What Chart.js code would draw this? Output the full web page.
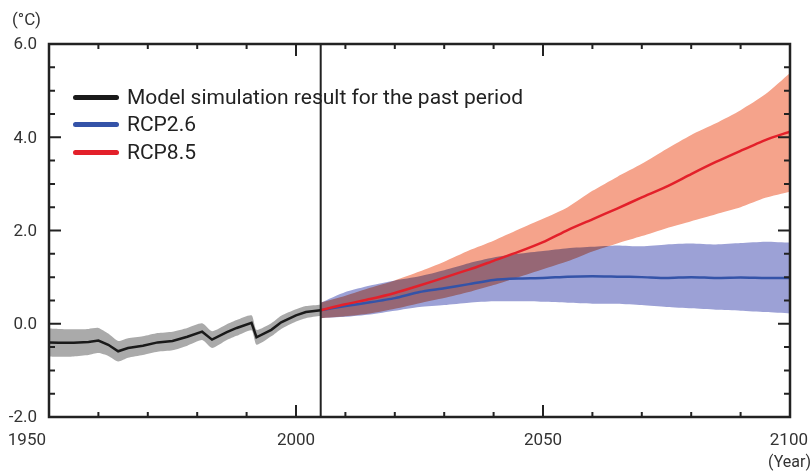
<!DOCTYPE html>
<html>
<head>
<meta charset="utf-8">
<script src="https://cdn.jsdelivr.net/npm/chart.js@4.4.1/dist/chart.umd.min.js"></script>
<style>
  body { margin: 0; background: #fff; }
  #wrap { position: relative; width: 811px; height: 471px; }
  .legend { position: absolute; left: 73px; top: 0; font: 21px Roboto, sans-serif; color: #222; }
  .row { position: absolute; left: 0; height: 26px; white-space: nowrap; display: flex; align-items: center; }
  .swatch { display: inline-block; width: 46px; height: 5px; border-radius: 3px; margin-right: 8px; }
</style>
</head>
<body>
<div id="wrap">
  <canvas id="tempChart" width="811" height="471"></canvas>
  <div class="legend">
    <div class="row" style="top:84px"><span class="swatch" style="background:#1a1a1a"></span>Model simulation result for the past period</div>
    <div class="row" style="top:111px"><span class="swatch" style="background:#3453a8"></span>RCP2.6</div>
    <div class="row" style="top:139px"><span class="swatch" style="background:#e3202a"></span>RCP8.5</div>
  </div>
</div>
<script>
// past simulation
const histYears = [1950, 1952, 1955, 1958, 1960, 1962, 1964, 1966, 1969, 1972, 1975, 1978, 1981, 1983, 1986, 1988, 1991, 1992, 1995, 1997, 2000, 2002, 2005];
const histMean  = [-0.40, -0.41, -0.41, -0.39, -0.36, -0.45, -0.59, -0.52, -0.47, -0.40, -0.37, -0.28, -0.17, -0.34, -0.18, -0.09, 0.02, -0.29, -0.13, 0.03, 0.18, 0.25, 0.29];
const histHigh  = [-0.10, -0.11, -0.12, -0.11, -0.09, -0.21, -0.37, -0.31, -0.27, -0.20, -0.17, -0.09, 0.01, -0.16, -0.01, 0.08, 0.18, -0.13, 0.01, 0.17, 0.31, 0.38, 0.41];
const histLow   = [-0.70, -0.71, -0.70, -0.67, -0.63, -0.69, -0.81, -0.73, -0.67, -0.60, -0.57, -0.47, -0.35, -0.52, -0.35, -0.26, -0.14, -0.45, -0.27, -0.11, 0.05, 0.12, 0.17];

// scenarios
const futureYears = [2005, 2010, 2015, 2020, 2025, 2030, 2035, 2040, 2045, 2050, 2055, 2060, 2065, 2070, 2075, 2080, 2085, 2090, 2095, 2100];
const rcp26Mean = [0.29, 0.38, 0.46, 0.55, 0.68, 0.76, 0.85, 0.94, 0.97, 0.98, 1.01, 1.02, 1.01, 1.00, 0.98, 1.00, 0.98, 0.99, 0.98, 0.98];
const rcp26High = [0.45, 0.68, 0.82, 0.93, 1.02, 1.15, 1.30, 1.42, 1.50, 1.56, 1.62, 1.65, 1.68, 1.66, 1.70, 1.72, 1.70, 1.73, 1.76, 1.74];
const rcp26Low  = [0.12, 0.15, 0.20, 0.28, 0.36, 0.40, 0.45, 0.48, 0.48, 0.47, 0.45, 0.43, 0.43, 0.40, 0.36, 0.33, 0.30, 0.28, 0.25, 0.22];
const rcp85Mean = [0.29, 0.42, 0.53, 0.66, 0.82, 0.99, 1.16, 1.35, 1.54, 1.75, 2.01, 2.24, 2.47, 2.71, 2.94, 3.21, 3.47, 3.71, 3.94, 4.12];
const rcp85High = [0.45, 0.60, 0.77, 0.93, 1.12, 1.33, 1.57, 1.78, 2.02, 2.25, 2.50, 2.85, 3.15, 3.43, 3.75, 4.05, 4.30, 4.58, 4.92, 5.38];
const rcp85Low  = [0.12, 0.16, 0.22, 0.32, 0.44, 0.55, 0.68, 0.83, 1.00, 1.17, 1.34, 1.55, 1.72, 1.88, 2.05, 2.20, 2.35, 2.50, 2.70, 2.83];

const splitYear = 2005;
const yTicks = [-2, 0, 2, 4, 6];
const yTickLabels = ['-2.0', '0.0', '2.0', '4.0', '6.0'];
const xTicks = [1950, 2000, 2050, 2100];
const xTickLabels = ['1950', '2000', '2050', '2100'];

function pts(xs, ys) { return xs.map((x, i) => ({ x: x, y: ys[i] })); }

function edge(label, data, order) {
    return { label: label, data: data, borderColor: 'transparent', borderWidth: 0, pointRadius: 0, fill: false, tension: 0.2, order: order };
}
function band(label, data, target, color, order) {
    return { label: label, data: data, borderColor: 'transparent', borderWidth: 0, pointRadius: 0,
             fill: target, backgroundColor: color, tension: 0.2, order: order };
}

// draw blue band with multiply so the overlap turns mauve
const blendPlugin = {
    id: 'blend',
    afterDatasetDraw(chart, args) {
        const lbl = chart.data.datasets[args.index].label;
        if (lbl === 'rcp85band') chart.ctx.globalCompositeOperation = 'multiply';
        if (lbl === 'rcp26band') chart.ctx.globalCompositeOperation = 'source-over';
    }
};

const framePlugin = {
    id: 'frame',
    afterDatasetsDraw(chart) {
        const ctx = chart.ctx, a = chart.chartArea;
        const xs = chart.scales.x, ys = chart.scales.y;
        ctx.save();
        ctx.strokeStyle = '#222';
        // 2005 divider
        ctx.lineWidth = 2;
        const sx = xs.getPixelForValue(splitYear);
        ctx.beginPath(); ctx.moveTo(sx, a.top); ctx.lineTo(sx, a.bottom); ctx.stroke();
        // ticks
        ctx.lineWidth = 2;
        ctx.beginPath();
        for (let v = -2; v <= 6; v += 0.5) {
            const y = ys.getPixelForValue(v);
            const len = v % 2 === 0 ? 12 : 6;
            ctx.moveTo(a.left, y); ctx.lineTo(a.left + len, y);
            ctx.moveTo(a.right, y); ctx.lineTo(a.right - len, y);
        }
        for (let yr = 1950; yr <= 2100; yr += 10) {
            const x = xs.getPixelForValue(yr);
            const len = yr % 50 === 0 ? 12 : 5;
            ctx.moveTo(x, a.bottom); ctx.lineTo(x, a.bottom - len);
            ctx.moveTo(x, a.top); ctx.lineTo(x, a.top + len);
        }
        ctx.stroke();
        ctx.lineWidth = 2.5;
        ctx.strokeRect(a.left, a.top, a.right - a.left, a.bottom - a.top);
        ctx.restore();
    },
    afterDraw(chart) {
        const ctx = chart.ctx, a = chart.chartArea;
        const xs = chart.scales.x, ys = chart.scales.y;
        ctx.save();
        ctx.fillStyle = '#333';
        ctx.font = '17px Roboto, sans-serif';
        ctx.textBaseline = 'middle';
        ctx.textAlign = 'right';
        yTicks.forEach((v, i) => ctx.fillText(yTickLabels[i], a.left - 12, ys.getPixelForValue(v) + 1));
        ctx.textAlign = 'left';
        ctx.fillText('(°C)', 12, 21);
        xTicks.forEach((v, i) => {
            const x = xs.getPixelForValue(v);
            if (i === 0) { ctx.textAlign = 'right'; ctx.fillText(xTickLabels[i], x - 3, a.bottom + 24); }
            else if (i === xTicks.length - 1) { ctx.textAlign = 'right'; ctx.fillText(xTickLabels[i], chart.width - 3, a.bottom + 24); }
            else { ctx.textAlign = 'center'; ctx.fillText(xTickLabels[i], x, a.bottom + 24); }
        });
        ctx.font = '16px Roboto, sans-serif';
        ctx.textAlign = 'right';
        ctx.fillText('(Year)', chart.width, a.bottom + 46);
        ctx.restore();
    }
};

const ctx = document.getElementById('tempChart').getContext('2d');
const tempChart = new Chart(ctx, {
    type: 'line',
    data: {
        datasets: [
            { label: 'RCP8.5', data: pts(futureYears, rcp85Mean), borderColor: '#e3202a', borderWidth: 2.5, pointRadius: 0, tension: 0.2, order: 1 },
            { label: 'RCP2.6', data: pts(futureYears, rcp26Mean), borderColor: '#3453a8', borderWidth: 2.5, pointRadius: 0, tension: 0.2, order: 2 },
            { label: 'past', data: pts(histYears, histMean), borderColor: '#1a1a1a', borderWidth: 2.5, pointRadius: 0, tension: 0, order: 3 },
            edge('rcp26low', pts(futureYears, rcp26Low), 10),
            band('rcp26band', pts(futureYears, rcp26High), 3, '#9ca1d6', 4),
            edge('rcp85low', pts(futureYears, rcp85Low), 11),
            band('rcp85band', pts(futureYears, rcp85High), 5, '#f5a38b', 5),
            edge('histlow', pts(histYears, histLow), 12),
            band('histband', pts(histYears, histHigh), 7, '#aaaaaa', 6)
        ]
    },
    options: {
        responsive: false,
        animation: false,
        layout: { padding: { left: 49, right: 21, top: 44, bottom: 54 } },
        plugins: { legend: { display: false }, tooltip: { enabled: false } },
        scales: {
            x: { type: 'linear', min: 1950, max: 2100, display: false },
            y: { min: -2, max: 6, display: false }
        }
    },
    plugins: [blendPlugin, framePlugin]
});
</script>
</body>
</html>
